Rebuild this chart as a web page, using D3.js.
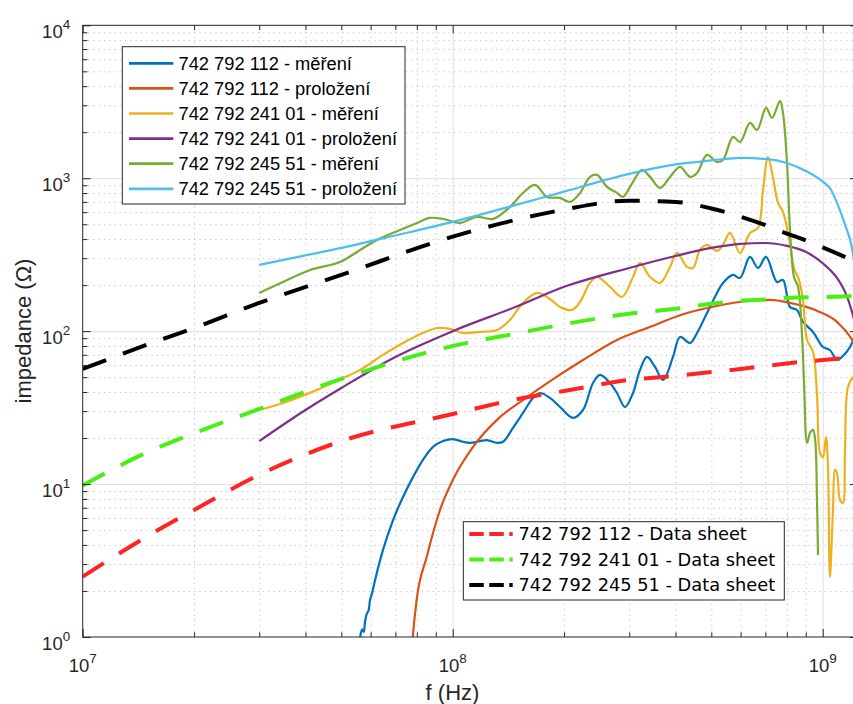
<!DOCTYPE html>
<html>
<head>
<meta charset="utf-8">
<script src="https://cdn.jsdelivr.net/npm/d3@7"></script>
<style>
  body { margin: 0; background: #fff; }
  svg { display: block; }
</style>
</head>
<body>
<svg id="chart" width="853" height="704"></svg>
<script>
// ---- Impedance data (frequency in MHz, impedance in ohms) ----

// 742 792 112 - measured
const f112Meas = [55.8, 56.2, 56.9, 57.5, 57.9, 58.6, 59.2, 59.8, 60.6, 61.7, 64.8, 69.0, 73.4, 78.1, 83.1, 88.5, 94.2, 100,
  106.6, 111.4, 118.5, 123.8, 131.8, 136.8, 145.5, 154.9, 164.8, 172.2, 183.2, 195.0, 211.4, 225.0, 239.4, 250.1, 266.1,
  278.0, 292.2, 307.1, 320.8, 335.1, 352.2, 370.2, 393.9, 411.5, 437.9, 457.5, 486.8, 518, 537.7, 572.3, 597.7, 636.1,
  668.6, 703, 752.4, 781, 815.8, 852.1, 884.6, 941.5, 1001.8, 1046, 1093, 1134, 1185, 1223];
const z112Meas = [0.85, 1.0, 1.12, 1.08, 1.24, 1.42, 1.48, 1.75, 1.95, 2.36, 3.71, 5.82, 8.23, 11.1, 14.4, 17.5, 19.1, 19.7,
  18.9, 18.6, 19.1, 19.4, 18.6, 18.9, 23.3, 29.2, 36.6, 39.4, 36.6, 31.9, 27.1, 30.5, 45.8, 51.7, 45.8,
  39.4, 31.9, 39.4, 55.8, 67.8, 58.3, 48.0, 67.8, 91.6, 83.7, 97.3, 131.5, 177.8, 206.7, 233.2, 222.8, 305.7,
  259, 305.7, 209.8, 216.2, 144, 137.6, 114.9, 98.8, 78.8, 75.3, 64.8, 68.8, 78.8, 94.4];

// 742 792 112 - fitted model
const f112Fit = [76.5, 77.3, 78.0, 79.9, 85.1, 92.4, 100, 113.5, 131.7, 155, 183, 225, 278, 341, 419, 517, 636, 721, 816, 965, 1093, 1208, 1250];
const z112Fit = [0.45, 0.75, 1.0, 1.75, 3.35, 6.77, 10.6, 17.5, 26.3, 35.5, 47, 64.8, 87.6, 106.5, 129, 146, 158, 160, 153, 136, 115, 86, 74];

// 742 792 241 01 - measured
const f24101Meas = [30, 34.8, 43.0, 50.5, 56.2, 64.8, 73.4, 83.1, 90.7, 98.3, 106.6, 118.5, 131.8, 142.8, 154.9, 169.0, 183.2,
  195.0, 210.1, 220.9, 235.0, 245.5, 266.1, 286.8, 307.1, 320.8, 341.5, 363.4, 386.7, 403.9, 429.8, 446.2, 466.0, 486.8,
  518, 537.7, 561.7, 597.7, 636.1, 668.6, 689.8, 711.5, 734.1, 757.3, 781, 810.8, 836.4, 862.9, 884.6, 907.3, 941.5,
  965.2, 983.3, 1001.8, 1020.7, 1033.4, 1046, 1066, 1079.5, 1093, 1113.8, 1134, 1148.7, 1170.3, 1208];
const z24101Meas = [30.5, 33.9, 41.3, 49.4, 55.8, 69.9, 83.7, 97.3, 104.9, 103.4, 97.3, 98.8, 101.8, 118.4, 152.9, 177.8, 162.4,
  144.0, 137.6, 155.2, 206.7, 226.2, 194.6, 167.4, 226.2, 279.3, 226.2, 206.7, 263, 324.6, 263, 259, 339.7, 366.2,
  334.6, 366.2, 438.8, 324.6, 438.8, 473.2, 838.6, 1378, 1005, 689.4, 601.9, 406.9, 259, 216.2, 160, 87.6, 73.1,
  38.3, 16.0, 15.0, 20.3, 12.9, 2.47, 6.77, 12.4, 11.8, 7.87, 7.52, 16.7, 43.2, 50.2];

// 742 792 241 01 - fitted model
const f24101Fit = [30, 40, 50, 70, 100, 150, 200, 300, 400, 500, 600, 700, 800, 900, 1000, 1100, 1150, 1200, 1250];
const z24101Fit = [19.1, 30.5, 42.5, 67.8, 100, 146, 195, 259, 310, 350, 372, 377, 361, 330, 278, 218, 180, 134, 90];

// 742 792 245 51 - measured
const f24551Meas = [30, 34.8, 41.2, 49.6, 56.2, 62.4, 72.0, 80.1, 86.8, 94.2, 104.6, 116.3, 128.5, 142.8, 154.9, 166.9, 179.8,
  195.0, 207.5, 220.9, 235.0, 245.5, 261.2, 278.0, 288.6, 301.5, 324.8, 341.5, 363.4, 386.7, 411.5, 437.9, 457.5, 486.8,
  518, 537.7, 572.3, 597.7, 636.1, 664.5, 703.0, 729.8, 766.7, 781, 800.8, 815.8, 836.4, 857.6, 879.2, 890.3, 907.3,
  924.1, 941.5, 954.4, 965.2, 971.1];
const z24551Meas = [177.8, 209.8, 251.3, 283.6, 339.7, 394.9, 459.2, 510.2, 550.1, 541.9, 510.2, 558.5, 541.9, 649.2, 801.4, 904.2, 754.6,
  743.3, 699.8, 801.4, 1020, 1051, 877.3, 801.4, 754.6, 877.3, 1133, 1020, 864.2, 1020, 1186, 1020, 1083, 1420,
  1278, 1317, 1863, 1728, 2299, 2069, 2883, 2480, 3203, 2673, 1259, 459, 226, 195, 94.4, 45.8, 18.6,
  21.6, 22.6, 19.4, 7.87, 3.44];

// 742 792 245 51 - fitted model
const f24551Fit = [30, 40, 50, 70, 100, 150, 200, 300, 400, 500, 600, 700, 800, 900, 1000, 1050, 1100, 1150, 1200, 1250];
const z24551Fit = [271, 313, 350, 422, 518, 674, 818, 1067, 1231, 1307, 1358, 1337, 1259, 1116, 950, 850, 665, 495, 350, 170];

// Data sheet curves
const fDs112 = [10, 15, 20, 30, 50, 100, 150, 200, 300, 400, 500, 600, 700, 800, 1000, 1250];
const zDs112 = [2.48, 4.58, 6.77, 11.5, 19.1, 28.7, 36, 40.6, 48, 51, 54, 56.6, 59.2, 61.5, 64.8, 67.5];
const fDs24101 = [10, 15, 20, 30, 50, 100, 150, 200, 300, 400, 500, 600, 700, 800, 1000, 1250];
const zDs24101 = [9.8, 16.2, 21.5, 31, 48.7, 80, 97, 111, 130, 140, 151, 158, 161, 165, 167, 170];
const fDs24551 = [10, 15, 20, 30, 50, 100, 150, 200, 300, 400, 500, 600, 700, 800, 900, 1000, 1250];
const zDs24551 = [56.6, 81.9, 105, 153, 233, 415, 538, 624, 713, 700, 634, 560, 493, 435, 392, 353, 279];

// Axis ticks
const xMajorTicks = [1e7, 1e8, 1e9];
const xTickExponents = ['7', '8', '9'];
const yMajorTicks = [1, 10, 100, 1000, 10000];
const yTickExponents = ['0', '1', '2', '3', '4'];

// Legend texts
const legendMeasLabels = [
  '742 792 112 - měření', '742 792 112 - proložení',
  '742 792 241 01 - měření', '742 792 241 01 - proložení',
  '742 792 245 51 - měření', '742 792 245 51 - proložení'
];
const legendSheetLabels = ['742 792 112 - Data sheet', '742 792 241 01 - Data sheet', '742 792 245 51 - Data sheet'];

// ---- Series tables ----
const zip = (f, z) => f.map((v, i) => ({ f: v * 1e6, z: z[i] }));
const solidSeries = [
  { color: '#0072BD', pts: zip(f112Meas, z112Meas), meas: true },
  { color: '#D95319', pts: zip(f112Fit, z112Fit), meas: false },
  { color: '#EDB120', pts: zip(f24101Meas, z24101Meas), meas: true },
  { color: '#7E2F8E', pts: zip(f24101Fit, z24101Fit), meas: false },
  { color: '#77AC30', pts: zip(f24551Meas, z24551Meas), meas: true },
  { color: '#4DBEEE', pts: zip(f24551Fit, z24551Fit), meas: false }
];
const sheetSeries = [
  { color: '#FF2424', pts: zip(fDs112, zDs112) },
  { color: '#48EE14', pts: zip(fDs24101, zDs24101) },
  { color: '#000000', pts: zip(fDs24551, zDs24551) }
];

// ---- Layout ----
const L = 82.7, R = 858, T = 25.3, B = 637;
const x = d3.scaleLog().domain([1e7, 1.2457e9]).range([L, R]);
const y = d3.scaleLog().domain([1, 1e4]).range([B, T]);

const axisColor = '#262626';
const tickFont = "'Liberation Sans', Arial, Helvetica, sans-serif";

const svg = d3.select('#chart');
svg.append('rect').attr('width', 853).attr('height', 704).attr('fill', '#fff');

// minor tick values
const xMinor = [];
[1e7, 1e8, 1e9].forEach(d => { for (let k = 2; k <= 9; k++) { const v = k * d; if (v <= 1.2457e9) xMinor.push(v); } });
const yMinor = [];
[1, 10, 100, 1000].forEach(d => { for (let k = 2; k <= 9; k++) yMinor.push(k * d); });

// ---- Grid ----
const grid = svg.append('g');
grid.append('g').attr('transform', `translate(0,${B})`)
  .call(d3.axisBottom(x).tickValues(xMinor).tickSize(-(B - T)).tickFormat(''))
  .call(g => g.select('.domain').remove())
  .selectAll('line').attr('stroke', '#c4c4c4').attr('stroke-width', 1).attr('stroke-dasharray', '1.3,4');
grid.append('g').attr('transform', `translate(${L},0)`)
  .call(d3.axisLeft(y).tickValues(yMinor).tickSize(-(R - L)).tickFormat(''))
  .call(g => g.select('.domain').remove())
  .selectAll('line').attr('stroke', '#c4c4c4').attr('stroke-width', 1).attr('stroke-dasharray', '1.3,4');
grid.append('g').attr('transform', `translate(0,${B})`)
  .call(d3.axisBottom(x).tickValues([1e8, 1e9]).tickSize(-(B - T)).tickFormat(''))
  .call(g => g.select('.domain').remove())
  .selectAll('line').attr('stroke', '#dedede').attr('stroke-width', 1);
grid.append('g').attr('transform', `translate(${L},0)`)
  .call(d3.axisLeft(y).tickValues([10, 100, 1000]).tickSize(-(R - L)).tickFormat(''))
  .call(g => g.select('.domain').remove())
  .selectAll('line').attr('stroke', '#dedede').attr('stroke-width', 1);

// ---- Curves ----
svg.append('clipPath').attr('id', 'plotClip')
  .append('rect').attr('x', L).attr('y', T).attr('width', R - L).attr('height', B - T);
const plot = svg.append('g').attr('clip-path', 'url(#plotClip)');

const lineMeas = d3.line().x(d => x(d.f)).y(d => y(d.z)).curve(d3.curveCatmullRom.alpha(0.5));
const lineSmooth = d3.line().x(d => x(d.f)).y(d => y(d.z)).curve(d3.curveMonotoneX);

solidSeries.forEach(s => {
  plot.append('path').datum(s.pts)
    .attr('d', s.meas ? lineMeas : lineSmooth)
    .attr('fill', 'none').attr('stroke', s.color).attr('stroke-width', 2.2)
    .attr('stroke-linejoin', 'round');
});
sheetSeries.forEach(s => {
  plot.append('path').datum(s.pts)
    .attr('d', lineSmooth)
    .attr('fill', 'none').attr('stroke', s.color).attr('stroke-width', 4)
    .attr('stroke-dasharray', '25,18');
});

// ---- Axes box and ticks ----
const axes = svg.append('g').attr('font-family', tickFont);
function styleAxis(g) {
  g.select('.domain').remove();
  g.selectAll('line').attr('stroke', axisColor).attr('stroke-width', 1);
}
// bottom / top
axes.append('g').attr('transform', `translate(0,${B})`)
  .call(d3.axisBottom(x).tickValues(xMinor).tickSize(-4.7).tickFormat('')).call(styleAxis);
axes.append('g').attr('transform', `translate(0,${B})`)
  .call(d3.axisBottom(x).tickValues(xMajorTicks).tickSize(-8).tickFormat('')).call(styleAxis);
axes.append('g').attr('transform', `translate(0,${T})`)
  .call(d3.axisTop(x).tickValues(xMinor).tickSize(-4.7).tickFormat('')).call(styleAxis);
axes.append('g').attr('transform', `translate(0,${T})`)
  .call(d3.axisTop(x).tickValues(xMajorTicks).tickSize(-8).tickFormat('')).call(styleAxis);
// left / right
axes.append('g').attr('transform', `translate(${L},0)`)
  .call(d3.axisLeft(y).tickValues(yMinor).tickSize(-4.7).tickFormat('')).call(styleAxis);
axes.append('g').attr('transform', `translate(${L},0)`)
  .call(d3.axisLeft(y).tickValues(yMajorTicks).tickSize(-8).tickFormat('')).call(styleAxis);
axes.append('g').attr('transform', `translate(${R},0)`)
  .call(d3.axisRight(y).tickValues(yMinor).tickSize(-4.7).tickFormat('')).call(styleAxis);
axes.append('g').attr('transform', `translate(${R},0)`)
  .call(d3.axisRight(y).tickValues(yMajorTicks).tickSize(-8).tickFormat('')).call(styleAxis);

axes.append('rect').attr('x', L).attr('y', T).attr('width', R - L).attr('height', B - T)
  .attr('fill', 'none').attr('stroke', axisColor).attr('stroke-width', 1);

// tick labels as powers of ten
xMajorTicks.forEach((v, i) => {
  const t = axes.append('text').attr('x', x(v)).attr('y', B + 34.7)
    .attr('text-anchor', 'middle').attr('fill', axisColor).attr('font-size', 18.5);
  t.append('tspan').text('10');
  t.append('tspan').attr('dy', -8.7).attr('font-size', 13.5).text(xTickExponents[i]);
});
yMajorTicks.forEach((v, i) => {
  const t = axes.append('text').attr('x', L - 12.5).attr('y', y(v) + 12.5)
    .attr('text-anchor', 'end').attr('fill', axisColor).attr('font-size', 18.5);
  t.append('tspan').text('10');
  t.append('tspan').attr('dy', -9).attr('font-size', 13.5).text(yTickExponents[i]);
});

// axis titles
axes.append('text').attr('x', 452.5).attr('y', 699.7).attr('text-anchor', 'middle')
  .attr('fill', axisColor).attr('font-size', 22).text('f (Hz)');
axes.append('text').attr('transform', 'translate(30.5,331) rotate(-90)').attr('text-anchor', 'middle')
  .attr('fill', axisColor).attr('font-size', 22).text('impedance (Ω)');

// ---- Legend: measured / fitted ----
const leg1 = svg.append('g').attr('font-family', tickFont);
leg1.append('rect').attr('x', 122.3).attr('y', 46.7).attr('width', 405 - 122.3).attr('height', 204 - 46.7)
  .attr('fill', '#fff').attr('stroke', axisColor).attr('stroke-width', 1);
legendMeasLabels.forEach((lab, i) => {
  const cy = 63.3 + i * 25.1;
  leg1.append('line').attr('x1', 129).attr('x2', 173.3).attr('y1', cy).attr('y2', cy)
    .attr('stroke', solidSeries[i].color).attr('stroke-width', 2.7);
  leg1.append('text').attr('x', 178.5).attr('y', cy + 6.6).attr('font-size', 18.3)
    .attr('fill', '#000').text(lab);
});

// ---- Legend: data sheet ----
const leg2 = svg.append('g').attr('font-family', "'DejaVu Sans', Verdana, sans-serif");
leg2.append('rect').attr('x', 463.3).attr('y', 521.7).attr('width', 784.3 - 463.3).attr('height', 600 - 521.7)
  .attr('fill', '#fff').attr('stroke', axisColor).attr('stroke-width', 1);
const leg2Rows = [534, 559.6, 585];
legendSheetLabels.forEach((lab, i) => {
  const cy = leg2Rows[i];
  leg2.append('line').attr('x1', 469.3).attr('x2', 512.7).attr('y1', cy).attr('y2', cy)
    .attr('stroke', sheetSeries[i].color).attr('stroke-width', 4).attr('stroke-dasharray', '14.5,5.5');
  leg2.append('text').attr('x', 518.5).attr('y', cy + 6.4).attr('font-size', 17.8)
    .attr('fill', '#000').text(lab);
});
</script>
</body>
</html>
